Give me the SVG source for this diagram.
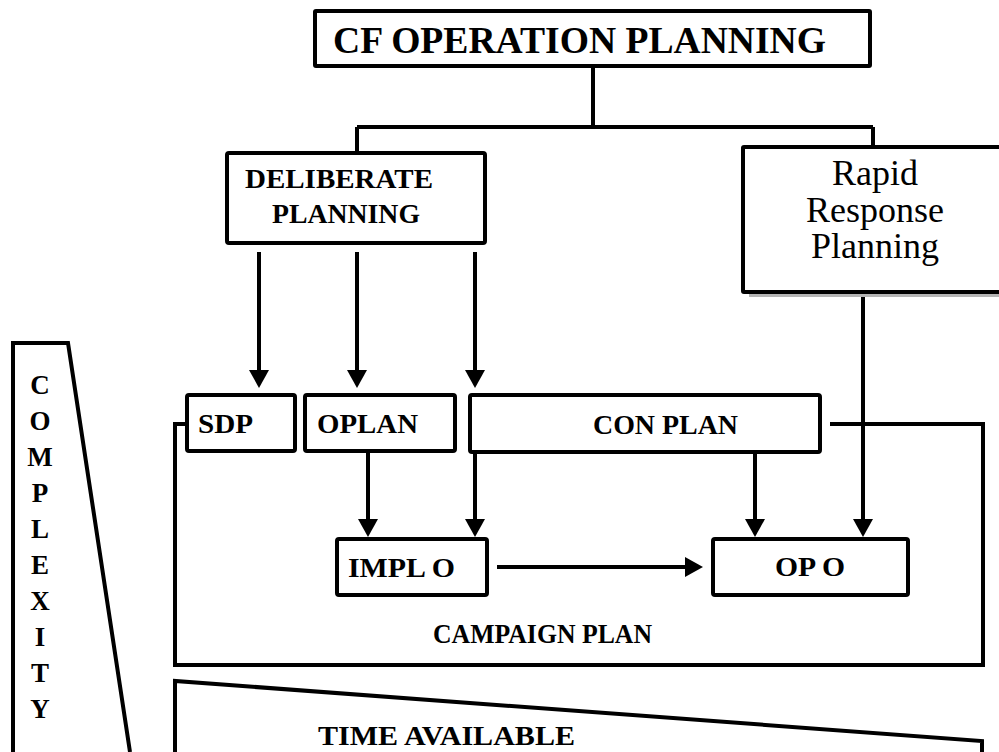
<svg xmlns="http://www.w3.org/2000/svg" width="999" height="752" viewBox="0 0 999 752">
<style>
.box{fill:#fff;stroke:#000;stroke-width:4;stroke-linejoin:round}
.ln{fill:none;stroke:#000;stroke-width:4}
.b{font-family:"Liberation Serif","Times New Roman",serif;font-weight:bold;fill:#000}
.r{font-family:"Liberation Serif","Times New Roman",serif;fill:#000}
</style>
<defs>
<marker id="ah" viewBox="0 0 18 20" refX="14" refY="10" markerWidth="18" markerHeight="20" markerUnits="userSpaceOnUse" orient="auto">
<path d="M0,0 L18,10 L0,20 z" fill="#000"/>
</marker>
</defs>
<rect width="999" height="752" fill="#fff"/>

<g id="complexity">
<path class="ln" d="M13,752 V343 H68 L130,752"/>
<g class="b" font-size="27" text-anchor="middle">
<text x="40" y="394">C</text>
<text x="40" y="430">O</text>
<text x="40" y="466">M</text>
<text x="40" y="502">P</text>
<text x="40" y="538">L</text>
<text x="40" y="574">E</text>
<text x="40" y="610">X</text>
<text x="40" y="646">I</text>
<text x="40" y="682">T</text>
<text x="40" y="718">Y</text>
</g>
</g>

<g id="time-available">
<path class="ln" d="M175,752 V681 L982,741 V752"/>
<text class="b" x="318" y="745" font-size="28" textLength="257" lengthAdjust="spacingAndGlyphs">TIME AVAILABLE</text>
</g>

<g id="campaign-plan">
<path class="ln" d="M187,424 H175 V665 H983 V424 H830"/>
<text class="b" x="433" y="643" font-size="27" textLength="219" lengthAdjust="spacingAndGlyphs">CAMPAIGN PLAN</text>
</g>

<g id="connectors">
<path class="ln" d="M593,66 V127 M357,127 H873 M357,127 V153 M873,127 V147"/>
<line class="ln" x1="259" y1="252" x2="259" y2="384" marker-end="url(#ah)"/>
<line class="ln" x1="357" y1="252" x2="357" y2="384" marker-end="url(#ah)"/>
<line class="ln" x1="475" y1="252" x2="475" y2="384" marker-end="url(#ah)"/>
<line class="ln" x1="368" y1="451" x2="368" y2="533" marker-end="url(#ah)"/>
<line class="ln" x1="475" y1="451" x2="475" y2="533" marker-end="url(#ah)"/>
<line class="ln" x1="755" y1="451" x2="755" y2="533" marker-end="url(#ah)"/>
<line class="ln" x1="863" y1="292" x2="863" y2="533" marker-end="url(#ah)"/>
<line class="ln" x1="497" y1="567" x2="699" y2="567" marker-end="url(#ah)"/>
</g>

<g id="cf-operation-planning">
<rect class="box" x="315" y="11" width="555" height="55" rx="1"/>
<text class="b" x="333" y="53" font-size="37" textLength="493" lengthAdjust="spacingAndGlyphs">CF OPERATION PLANNING</text>
</g>

<g id="deliberate-planning">
<rect class="box" x="227" y="153" width="258" height="90" rx="2"/>
<text class="b" x="245" y="188" font-size="27" textLength="188" lengthAdjust="spacingAndGlyphs">DELIBERATE</text>
<text class="b" x="272" y="223" font-size="27" textLength="148" lengthAdjust="spacingAndGlyphs">PLANNING</text>
</g>

<g id="rapid-response-planning">
<rect x="749" y="152" width="260" height="145" fill="#b4b4b4"/>
<rect class="box" x="743" y="147" width="270" height="145" rx="1"/>
<g class="r" font-size="36" text-anchor="middle">
<text x="875" y="185">Rapid</text>
<text x="875" y="222">Response</text>
<text x="875" y="258">Planning</text>
</g>
</g>

<g id="sdp">
<rect class="box" x="187" y="395" width="108" height="56" rx="2"/>
<text class="b" x="198" y="433" font-size="28" textLength="55" lengthAdjust="spacingAndGlyphs">SDP</text>
</g>

<g id="oplan">
<rect class="box" x="305" y="395" width="150" height="56" rx="2"/>
<text class="b" x="317" y="433" font-size="28" textLength="101" lengthAdjust="spacingAndGlyphs">OPLAN</text>
</g>

<g id="con-plan">
<rect class="box" x="470" y="395" width="350" height="57" rx="2"/>
<text class="b" x="593" y="434" font-size="28" textLength="145" lengthAdjust="spacingAndGlyphs">CON PLAN</text>
</g>

<g id="impl-o">
<rect class="box" x="337" y="539" width="150" height="56" rx="2"/>
<text class="b" x="348" y="577" font-size="28" textLength="107" lengthAdjust="spacingAndGlyphs">IMPL O</text>
</g>

<g id="op-o">
<rect class="box" x="713" y="539" width="195" height="56" rx="2"/>
<text class="b" x="775" y="576" font-size="28" textLength="70" lengthAdjust="spacingAndGlyphs">OP O</text>
</g>
</svg>
